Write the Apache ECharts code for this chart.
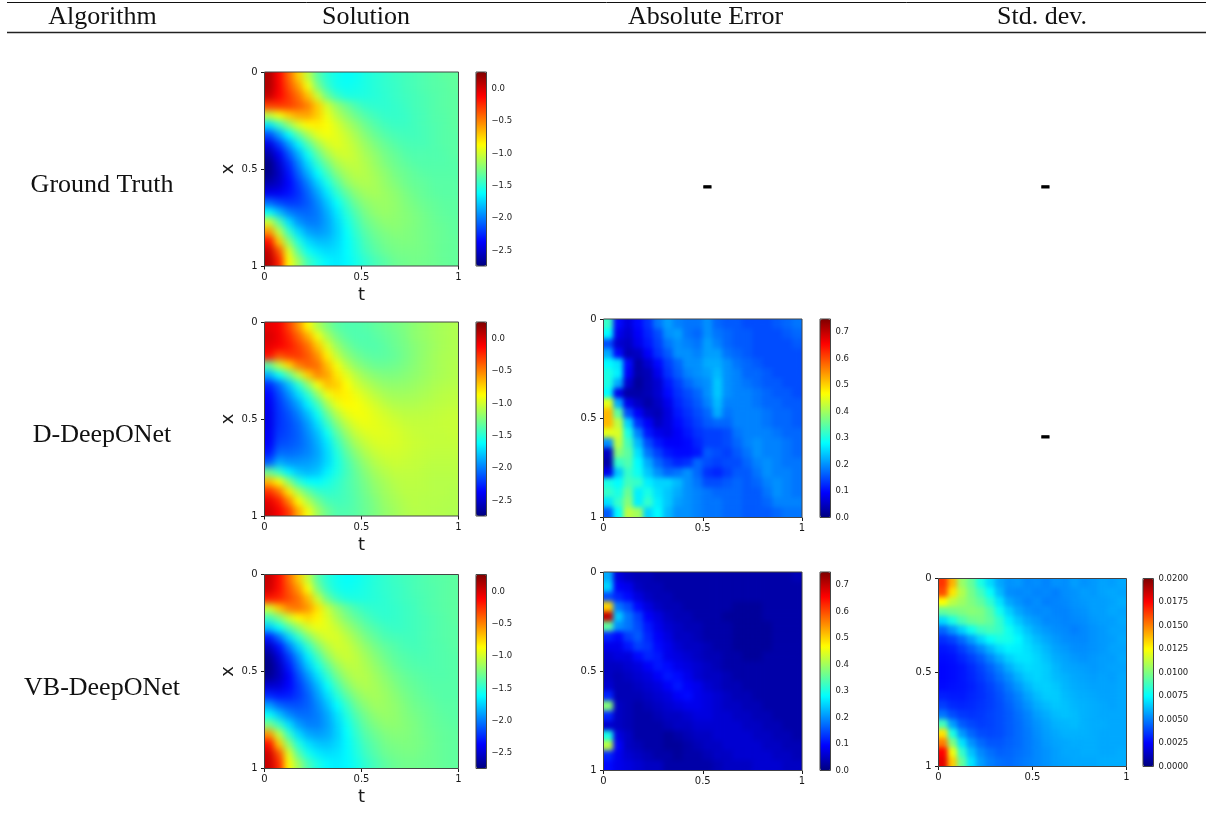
<!DOCTYPE html>
<html><head><meta charset="utf-8">
<style>html,body{margin:0;padding:0;background:#fff}#c{width:1206px;height:814px}</style>
<script src="https://cdn.jsdelivr.net/npm/echarts@6/dist/echarts.min.js"></script>
</head><body>
<svg width="0" height="0" style="position:absolute"><defs>
<filter id="smoothWide" x="-2%" y="-2%" width="104%" height="104%" color-interpolation-filters="sRGB"><feGaussianBlur stdDeviation="3.5"/><feComponentTransfer><feFuncA type="linear" slope="60"/></feComponentTransfer></filter>
<filter id="smoothFine" x="-2%" y="-2%" width="104%" height="104%" color-interpolation-filters="sRGB"><feGaussianBlur stdDeviation="2.5"/><feComponentTransfer><feFuncA type="linear" slope="60"/></feComponentTransfer></filter>
</defs></svg>
<div id="c"></div>
<script>
const headers = ['Algorithm','Solution','Absolute Error','Std. dev.'];
const algorithms = ['Ground Truth','D-DeepONet','VB-DeepONet'];
const cellCentres = [.025,.075,.125,.175,.225,.275,.325,.375,.425,.475,.525,.575,.625,.675,.725,.775,.825,.875,.925,.975];
const solutionTicks = [-2.5,-2,-1.5,-1,-0.5,0];
const errorTicks = [0,.1,.2,.3,.4,.5,.6,.7];
const stdTicks = [0,.0025,.005,.0075,.01,.0125,.015,.0175,.02];
const solutionRange = [-2.74,0.26];
const errorRange = [0,0.75];
const stdRange = [0,0.02];

const groundTruth = [
[0.12,-0.12,-0.42,-0.72,-1.05,-1.35,-1.50,-1.57,-1.60,-1.58,-1.53,-1.50,-1.47,-1.44,-1.42,-1.40,-1.38,-1.36,-1.34,-1.33],
[0.12,-0.10,-0.35,-0.58,-0.90,-1.25,-1.45,-1.56,-1.58,-1.56,-1.53,-1.50,-1.47,-1.45,-1.42,-1.40,-1.38,-1.36,-1.35,-1.33],
[0.05,-0.12,-0.28,-0.45,-0.68,-1.02,-1.30,-1.45,-1.53,-1.53,-1.52,-1.50,-1.48,-1.45,-1.43,-1.41,-1.39,-1.37,-1.35,-1.34],
[-0.30,-0.28,-0.30,-0.38,-0.50,-0.72,-1.00,-1.18,-1.30,-1.40,-1.46,-1.48,-1.48,-1.46,-1.44,-1.41,-1.39,-1.37,-1.35,-1.34],
[-1.05,-0.90,-0.72,-0.62,-0.60,-0.72,-0.92,-1.08,-1.20,-1.30,-1.38,-1.43,-1.46,-1.46,-1.45,-1.42,-1.40,-1.37,-1.36,-1.34],
[-1.70,-1.45,-1.20,-0.98,-0.85,-0.82,-0.88,-0.98,-1.10,-1.20,-1.30,-1.37,-1.42,-1.44,-1.44,-1.42,-1.40,-1.38,-1.36,-1.34],
[-2.15,-1.90,-1.62,-1.35,-1.12,-0.95,-0.90,-0.95,-1.03,-1.13,-1.23,-1.31,-1.37,-1.40,-1.42,-1.42,-1.40,-1.38,-1.36,-1.35],
[-2.45,-2.20,-1.92,-1.65,-1.38,-1.15,-1.00,-0.95,-1.00,-1.08,-1.17,-1.25,-1.31,-1.36,-1.39,-1.40,-1.40,-1.38,-1.36,-1.35],
[-2.62,-2.40,-2.12,-1.85,-1.58,-1.33,-1.13,-1.02,-1.00,-1.05,-1.13,-1.20,-1.27,-1.32,-1.36,-1.38,-1.38,-1.38,-1.37,-1.35],
[-2.72,-2.50,-2.25,-1.98,-1.72,-1.48,-1.28,-1.12,-1.05,-1.05,-1.10,-1.17,-1.24,-1.29,-1.33,-1.36,-1.37,-1.37,-1.37,-1.36],
[-2.70,-2.55,-2.32,-2.08,-1.85,-1.62,-1.42,-1.23,-1.12,-1.07,-1.09,-1.14,-1.20,-1.26,-1.30,-1.33,-1.35,-1.36,-1.36,-1.36],
[-2.60,-2.52,-2.36,-2.18,-1.98,-1.76,-1.55,-1.36,-1.20,-1.12,-1.10,-1.13,-1.18,-1.23,-1.28,-1.31,-1.33,-1.35,-1.35,-1.35],
[-2.42,-2.40,-2.32,-2.22,-2.06,-1.88,-1.68,-1.48,-1.32,-1.20,-1.14,-1.13,-1.16,-1.20,-1.25,-1.29,-1.32,-1.34,-1.35,-1.35],
[-2.05,-2.15,-2.20,-2.18,-2.10,-1.96,-1.78,-1.60,-1.43,-1.28,-1.20,-1.16,-1.16,-1.19,-1.23,-1.27,-1.30,-1.32,-1.34,-1.34],
[-1.60,-1.80,-1.98,-2.05,-2.06,-2.00,-1.85,-1.68,-1.50,-1.36,-1.25,-1.19,-1.17,-1.19,-1.22,-1.25,-1.28,-1.31,-1.33,-1.34],
[-1.00,-1.35,-1.70,-1.92,-2.00,-1.99,-1.88,-1.73,-1.56,-1.42,-1.30,-1.24,-1.20,-1.20,-1.22,-1.24,-1.27,-1.30,-1.32,-1.33],
[-0.55,-1.05,-1.45,-1.72,-1.88,-1.92,-1.87,-1.75,-1.60,-1.46,-1.35,-1.28,-1.24,-1.22,-1.23,-1.25,-1.27,-1.29,-1.31,-1.33],
[-0.15,-0.70,-1.20,-1.52,-1.72,-1.80,-1.80,-1.73,-1.62,-1.50,-1.39,-1.32,-1.27,-1.25,-1.24,-1.25,-1.27,-1.29,-1.31,-1.32],
[0.05,-0.35,-0.95,-1.35,-1.58,-1.68,-1.72,-1.70,-1.62,-1.52,-1.42,-1.35,-1.30,-1.27,-1.26,-1.26,-1.27,-1.29,-1.31,-1.32],
[0.10,-0.20,-0.85,-1.15,-1.42,-1.55,-1.64,-1.67,-1.63,-1.55,-1.47,-1.40,-1.35,-1.30,-1.28,-1.27,-1.28,-1.29,-1.31,-1.32]];

const dDeepONetSolution = [
[-0.05,-0.10,-0.30,-0.55,-0.85,-1.10,-1.25,-1.35,-1.38,-1.38,-1.36,-1.33,-1.30,-1.27,-1.24,-1.20,-1.17,-1.14,-1.12,-1.10],
[0.00,-0.08,-0.22,-0.40,-0.62,-0.90,-1.12,-1.27,-1.35,-1.38,-1.38,-1.35,-1.32,-1.29,-1.25,-1.20,-1.17,-1.14,-1.12,-1.10],
[-0.05,-0.10,-0.18,-0.30,-0.45,-0.70,-0.97,-1.17,-1.28,-1.35,-1.37,-1.37,-1.34,-1.30,-1.26,-1.22,-1.18,-1.15,-1.12,-1.10],
[-0.15,-0.35,-0.28,-0.28,-0.38,-0.55,-0.82,-1.05,-1.20,-1.28,-1.33,-1.35,-1.34,-1.31,-1.27,-1.22,-1.18,-1.14,-1.11,-1.10],
[-1.35,-1.05,-0.75,-0.50,-0.40,-0.45,-0.68,-0.90,-1.08,-1.20,-1.26,-1.30,-1.30,-1.28,-1.25,-1.21,-1.17,-1.14,-1.11,-1.09],
[-1.85,-1.60,-1.35,-1.05,-0.72,-0.52,-0.60,-0.80,-0.95,-1.08,-1.17,-1.22,-1.24,-1.24,-1.22,-1.19,-1.16,-1.13,-1.11,-1.09],
[-2.25,-2.05,-1.80,-1.50,-1.20,-0.90,-0.68,-0.72,-0.87,-1.00,-1.08,-1.14,-1.18,-1.19,-1.18,-1.16,-1.14,-1.11,-1.09,-1.08],
[-2.35,-2.15,-1.95,-1.72,-1.48,-1.18,-0.92,-0.80,-0.83,-0.92,-1.00,-1.07,-1.12,-1.14,-1.14,-1.13,-1.11,-1.09,-1.07,-1.06],
[-2.40,-2.20,-2.05,-1.88,-1.65,-1.42,-1.12,-0.93,-0.85,-0.88,-0.94,-1.00,-1.06,-1.09,-1.10,-1.10,-1.08,-1.07,-1.06,-1.05],
[-2.42,-2.22,-2.12,-1.98,-1.80,-1.58,-1.30,-1.08,-0.94,-0.89,-0.91,-0.96,-1.00,-1.04,-1.06,-1.06,-1.06,-1.05,-1.04,-1.03],
[-2.42,-2.22,-2.15,-2.05,-1.90,-1.70,-1.45,-1.22,-1.05,-0.95,-0.92,-0.94,-0.97,-1.00,-1.03,-1.04,-1.04,-1.04,-1.03,-1.03],
[-2.40,-2.20,-2.15,-2.08,-1.95,-1.80,-1.58,-1.35,-1.16,-1.03,-0.97,-0.95,-0.96,-0.98,-1.01,-1.03,-1.04,-1.04,-1.04,-1.03],
[-2.38,-2.15,-2.12,-2.07,-1.98,-1.85,-1.68,-1.45,-1.26,-1.11,-1.03,-0.98,-0.97,-0.98,-1.00,-1.02,-1.03,-1.04,-1.04,-1.04],
[-2.30,-2.05,-2.05,-2.02,-1.97,-1.88,-1.72,-1.52,-1.34,-1.20,-1.09,-1.03,-1.00,-1.00,-1.01,-1.03,-1.04,-1.05,-1.05,-1.05],
[-2.10,-1.85,-1.92,-1.92,-1.90,-1.85,-1.72,-1.55,-1.40,-1.27,-1.16,-1.08,-1.04,-1.02,-1.03,-1.04,-1.05,-1.06,-1.06,-1.06],
[-1.30,-1.45,-1.65,-1.78,-1.82,-1.78,-1.65,-1.53,-1.42,-1.31,-1.21,-1.13,-1.08,-1.05,-1.05,-1.05,-1.06,-1.07,-1.07,-1.07],
[-0.65,-0.85,-1.20,-1.48,-1.60,-1.62,-1.55,-1.48,-1.40,-1.33,-1.25,-1.17,-1.12,-1.08,-1.06,-1.06,-1.07,-1.08,-1.08,-1.08],
[-0.25,-0.45,-0.80,-1.12,-1.32,-1.45,-1.48,-1.45,-1.40,-1.34,-1.27,-1.20,-1.14,-1.10,-1.07,-1.07,-1.07,-1.08,-1.08,-1.09],
[-0.05,-0.20,-0.50,-0.85,-1.10,-1.28,-1.40,-1.42,-1.40,-1.35,-1.29,-1.23,-1.16,-1.12,-1.09,-1.07,-1.08,-1.08,-1.09,-1.09],
[0.02,-0.10,-0.28,-0.62,-0.90,-1.15,-1.30,-1.38,-1.38,-1.35,-1.30,-1.24,-1.18,-1.14,-1.10,-1.08,-1.08,-1.09,-1.09,-1.10]];

const vbDeepONetSolution = [
[0.05,-0.14,-0.42,-0.70,-1.03,-1.35,-1.50,-1.57,-1.60,-1.58,-1.54,-1.50,-1.47,-1.44,-1.42,-1.40,-1.38,-1.36,-1.35,-1.34],
[0.02,-0.15,-0.36,-0.56,-0.88,-1.25,-1.45,-1.55,-1.58,-1.56,-1.53,-1.50,-1.47,-1.45,-1.43,-1.40,-1.38,-1.37,-1.35,-1.34],
[-0.18,-0.22,-0.33,-0.45,-0.66,-1.02,-1.30,-1.45,-1.52,-1.53,-1.52,-1.50,-1.48,-1.45,-1.43,-1.41,-1.39,-1.37,-1.35,-1.34],
[-1.00,-0.70,-0.50,-0.46,-0.56,-0.78,-1.03,-1.20,-1.32,-1.41,-1.46,-1.48,-1.48,-1.46,-1.44,-1.42,-1.39,-1.37,-1.35,-1.34],
[-1.42,-1.25,-1.02,-0.85,-0.76,-0.84,-0.97,-1.12,-1.24,-1.33,-1.40,-1.45,-1.47,-1.46,-1.44,-1.42,-1.40,-1.38,-1.36,-1.34],
[-1.78,-1.60,-1.38,-1.18,-1.00,-0.92,-0.95,-1.03,-1.14,-1.24,-1.33,-1.39,-1.43,-1.45,-1.44,-1.42,-1.40,-1.38,-1.36,-1.35],
[-2.30,-2.05,-1.75,-1.48,-1.25,-1.07,-0.98,-0.98,-1.06,-1.16,-1.26,-1.33,-1.39,-1.41,-1.42,-1.42,-1.40,-1.38,-1.36,-1.35],
[-2.55,-2.32,-2.02,-1.75,-1.48,-1.25,-1.08,-1.00,-1.02,-1.10,-1.19,-1.27,-1.33,-1.37,-1.40,-1.41,-1.40,-1.38,-1.37,-1.35],
[-2.68,-2.47,-2.20,-1.93,-1.66,-1.42,-1.20,-1.06,-1.02,-1.06,-1.14,-1.22,-1.29,-1.34,-1.37,-1.39,-1.39,-1.38,-1.37,-1.36],
[-2.72,-2.55,-2.30,-2.04,-1.78,-1.56,-1.35,-1.17,-1.07,-1.06,-1.11,-1.18,-1.25,-1.31,-1.35,-1.37,-1.38,-1.38,-1.37,-1.36],
[-2.68,-2.56,-2.38,-2.14,-1.92,-1.70,-1.48,-1.28,-1.14,-1.08,-1.09,-1.15,-1.21,-1.27,-1.31,-1.34,-1.36,-1.37,-1.37,-1.36],
[-2.50,-2.48,-2.36,-2.20,-2.02,-1.82,-1.60,-1.40,-1.23,-1.13,-1.10,-1.13,-1.18,-1.24,-1.29,-1.32,-1.34,-1.36,-1.36,-1.36],
[-2.25,-2.30,-2.28,-2.20,-2.08,-1.90,-1.71,-1.51,-1.34,-1.21,-1.14,-1.13,-1.16,-1.21,-1.26,-1.30,-1.33,-1.35,-1.36,-1.36],
[-1.90,-2.06,-2.12,-2.13,-2.08,-1.96,-1.80,-1.62,-1.45,-1.29,-1.20,-1.15,-1.16,-1.19,-1.24,-1.28,-1.31,-1.33,-1.35,-1.35],
[-1.60,-1.78,-1.95,-2.03,-2.04,-1.99,-1.87,-1.70,-1.52,-1.37,-1.26,-1.19,-1.17,-1.19,-1.23,-1.26,-1.29,-1.32,-1.34,-1.35],
[-1.25,-1.45,-1.70,-1.90,-1.98,-1.98,-1.89,-1.74,-1.58,-1.43,-1.31,-1.24,-1.20,-1.20,-1.22,-1.25,-1.28,-1.31,-1.33,-1.34],
[-0.55,-1.05,-1.45,-1.72,-1.86,-1.90,-1.86,-1.76,-1.61,-1.47,-1.36,-1.29,-1.24,-1.22,-1.23,-1.25,-1.28,-1.30,-1.32,-1.33],
[-0.15,-0.70,-1.20,-1.52,-1.70,-1.78,-1.79,-1.73,-1.63,-1.51,-1.40,-1.33,-1.27,-1.25,-1.24,-1.25,-1.27,-1.30,-1.32,-1.33],
[0.02,-0.35,-0.95,-1.35,-1.56,-1.67,-1.71,-1.69,-1.63,-1.53,-1.43,-1.36,-1.30,-1.27,-1.26,-1.26,-1.28,-1.30,-1.32,-1.33],
[0.05,-0.22,-0.85,-1.15,-1.40,-1.54,-1.63,-1.66,-1.63,-1.56,-1.47,-1.40,-1.34,-1.30,-1.28,-1.28,-1.29,-1.30,-1.32,-1.33]];

const dDeepONetError = [
[.32,.10,.07,.10,.13,.18,.21,.19,.18,.18,.20,.17,.16,.16,.15,.15,.15,.16,.17,.18],
[.28,.08,.06,.09,.12,.15,.20,.21,.18,.17,.20,.18,.17,.16,.16,.15,.15,.15,.16,.17],
[.15,.06,.05,.08,.11,.14,.18,.20,.19,.18,.21,.19,.17,.16,.16,.15,.15,.15,.15,.16],
[.22,.10,.04,.05,.09,.13,.16,.20,.20,.19,.21,.21,.18,.17,.16,.15,.15,.15,.15,.15],
[.28,.26,.10,.03,.06,.10,.14,.17,.20,.20,.22,.22,.20,.18,.17,.16,.15,.15,.15,.15],
[.30,.27,.09,.03,.04,.08,.13,.16,.19,.20,.21,.23,.20,.19,.17,.17,.16,.15,.15,.15],
[.30,.22,.06,.02,.04,.06,.11,.14,.17,.19,.20,.24,.20,.19,.18,.17,.16,.16,.15,.15],
[.28,.08,.03,.03,.04,.06,.10,.13,.15,.17,.20,.24,.20,.19,.19,.18,.17,.16,.16,.15],
[.45,.22,.08,.05,.03,.05,.08,.12,.14,.16,.19,.23,.19,.19,.19,.18,.17,.17,.16,.16],
[.52,.35,.15,.09,.05,.04,.07,.11,.13,.15,.17,.22,.18,.19,.19,.19,.18,.17,.17,.16],
[.52,.42,.25,.13,.09,.05,.07,.10,.12,.14,.16,.17,.17,.19,.19,.19,.18,.17,.17,.16],
[.45,.44,.30,.19,.11,.08,.07,.09,.11,.13,.14,.14,.15,.18,.19,.19,.19,.18,.17,.17],
[.20,.42,.33,.23,.15,.11,.09,.09,.10,.12,.14,.14,.15,.17,.19,.20,.19,.19,.18,.17],
[.05,.38,.35,.26,.18,.14,.11,.10,.10,.11,.16,.15,.14,.16,.18,.20,.19,.19,.18,.17],
[.03,.32,.34,.28,.22,.17,.14,.12,.13,.17,.15,.14,.15,.15,.17,.19,.20,.19,.18,.18],
[.08,.24,.32,.29,.24,.20,.17,.18,.20,.17,.13,.12,.14,.16,.16,.18,.20,.19,.19,.18],
[.30,.28,.33,.32,.27,.25,.25,.23,.20,.18,.15,.15,.16,.17,.16,.17,.19,.20,.19,.18],
[.32,.30,.36,.27,.30,.26,.24,.22,.20,.19,.18,.17,.17,.17,.16,.16,.18,.20,.19,.18],
[.26,.32,.38,.27,.32,.27,.24,.21,.20,.19,.18,.18,.17,.17,.16,.16,.17,.19,.19,.19],
[.16,.28,.42,.40,.25,.28,.23,.20,.20,.19,.18,.18,.17,.17,.16,.16,.16,.17,.18,.18]];

const vbDeepONetError = [
[.22,.07,.05,.04,.04,.03,.03,.03,.03,.03,.03,.03,.03,.03,.03,.03,.03,.03,.03,.04],
[.25,.09,.08,.05,.04,.04,.03,.03,.03,.03,.03,.03,.03,.03,.03,.03,.03,.03,.03,.03],
[.15,.12,.10,.07,.05,.04,.04,.03,.03,.03,.03,.03,.03,.03,.03,.03,.03,.03,.03,.03],
[.50,.18,.15,.10,.07,.05,.04,.04,.03,.03,.03,.03,.03,.02,.02,.02,.03,.03,.03,.03],
[.70,.24,.18,.14,.09,.07,.05,.04,.04,.03,.03,.03,.02,.02,.02,.02,.03,.03,.03,.03],
[.35,.20,.18,.15,.11,.08,.06,.05,.04,.04,.03,.03,.03,.02,.02,.02,.02,.03,.03,.03],
[.12,.10,.14,.16,.12,.09,.07,.05,.05,.04,.03,.03,.03,.02,.02,.02,.02,.03,.03,.03],
[.08,.08,.11,.14,.13,.10,.08,.06,.05,.05,.04,.03,.03,.02,.02,.02,.02,.03,.03,.03],
[.06,.07,.07,.10,.12,.11,.08,.07,.06,.05,.04,.04,.03,.03,.02,.02,.03,.03,.03,.03],
[.05,.05,.06,.07,.09,.11,.10,.08,.07,.06,.05,.04,.03,.03,.03,.03,.03,.03,.03,.03],
[.05,.04,.05,.06,.07,.09,.11,.10,.08,.06,.05,.05,.04,.03,.03,.03,.03,.03,.03,.03],
[.06,.04,.04,.05,.06,.07,.09,.11,.09,.08,.06,.05,.04,.04,.03,.03,.03,.03,.03,.03],
[.12,.04,.04,.04,.05,.06,.07,.09,.10,.08,.07,.06,.05,.04,.04,.03,.03,.03,.03,.03],
[.38,.05,.04,.03,.04,.05,.06,.07,.08,.08,.07,.06,.05,.05,.04,.04,.03,.03,.03,.03],
[.12,.05,.04,.03,.03,.04,.05,.05,.06,.07,.07,.06,.06,.05,.05,.04,.04,.03,.03,.03],
[.06,.05,.04,.03,.03,.03,.04,.05,.05,.06,.06,.06,.06,.06,.05,.05,.04,.04,.03,.03],
[.30,.07,.05,.03,.03,.03,.02,.03,.04,.05,.05,.06,.06,.06,.06,.05,.05,.04,.04,.03],
[.42,.09,.05,.04,.03,.03,.02,.02,.03,.04,.05,.05,.06,.06,.06,.06,.05,.05,.04,.04],
[.12,.08,.06,.05,.04,.03,.03,.02,.03,.03,.04,.05,.05,.06,.06,.06,.06,.05,.05,.04],
[.10,.08,.07,.06,.05,.05,.03,.03,.03,.03,.03,.04,.05,.05,.05,.06,.06,.06,.05,.05]];

const vbDeepONetStd = [
[.0165,.0140,.0105,.0095,.0080,.0068,.0058,.0054,.0055,.0052,.0053,.0051,.0054,.0053,.0056,.0054,.0055,.0057,.0056,.0058],
[.0160,.0130,.0110,.0098,.0088,.0076,.0062,.0053,.0052,.0053,.0051,.0052,.0050,.0053,.0054,.0056,.0055,.0057,.0058,.0057],
[.0125,.0112,.0106,.0100,.0094,.0084,.0070,.0058,.0054,.0051,.0053,.0050,.0051,.0052,.0054,.0055,.0056,.0056,.0057,.0059],
[.0095,.0098,.0100,.0102,.0100,.0092,.0078,.0066,.0058,.0054,.0052,.0053,.0051,.0051,.0053,.0054,.0056,.0056,.0058,.0057],
[.0068,.0080,.0090,.0096,.0098,.0094,.0085,.0072,.0064,.0058,.0055,.0052,.0052,.0051,.0052,.0053,.0055,.0056,.0056,.0058],
[.0045,.0055,.0066,.0078,.0086,.0089,.0086,.0078,.0070,.0063,.0058,.0055,.0053,.0052,.0050,.0052,.0054,.0055,.0057,.0057],
[.0034,.0038,.0046,.0056,.0067,.0076,.0080,.0079,.0074,.0067,.0062,.0058,.0055,.0053,.0052,.0052,.0054,.0055,.0056,.0058],
[.0029,.0031,.0037,.0044,.0052,.0061,.0069,.0073,.0072,.0069,.0065,.0061,.0057,.0055,.0053,.0053,.0054,.0055,.0057,.0057],
[.0027,.0028,.0032,.0037,.0043,.0051,.0059,.0066,.0070,.0070,.0067,.0063,.0059,.0057,.0055,.0054,.0055,.0056,.0056,.0058],
[.0026,.0027,.0029,.0033,.0038,.0044,.0051,.0059,.0065,.0068,.0067,.0065,.0061,.0058,.0057,.0056,.0055,.0056,.0057,.0057],
[.0026,.0027,.0029,.0032,.0036,.0041,.0047,.0053,.0060,.0065,.0067,.0065,.0062,.0060,.0058,.0057,.0056,.0057,.0056,.0058],
[.0027,.0028,.0029,.0031,.0034,.0038,.0043,.0049,.0055,.0061,.0065,.0066,.0064,.0061,.0059,.0058,.0057,.0057,.0057,.0058],
[.0031,.0030,.0030,.0032,.0034,.0037,.0041,.0046,.0051,.0057,.0062,.0065,.0065,.0062,.0060,.0059,.0058,.0057,.0057,.0058],
[.0037,.0033,.0032,.0033,.0035,.0037,.0040,.0044,.0049,.0054,.0059,.0062,.0064,.0063,.0061,.0060,.0059,.0058,.0057,.0058],
[.0048,.0040,.0036,.0035,.0036,.0038,.0040,.0043,.0047,.0051,.0056,.0059,.0062,.0063,.0062,.0060,.0059,.0058,.0058,.0058],
[.0088,.0056,.0043,.0039,.0037,.0038,.0040,.0043,.0046,.0050,.0054,.0057,.0060,.0061,.0062,.0060,.0059,.0059,.0058,.0058],
[.0130,.0080,.0055,.0045,.0040,.0039,.0040,.0043,.0046,.0049,.0053,.0056,.0058,.0060,.0060,.0060,.0059,.0058,.0058,.0058],
[.0150,.0100,.0070,.0054,.0046,.0042,.0042,.0044,.0046,.0049,.0052,.0055,.0057,.0058,.0059,.0059,.0059,.0058,.0058,.0058],
[.0175,.0122,.0085,.0063,.0052,.0047,.0044,.0045,.0047,.0049,.0052,.0054,.0056,.0058,.0058,.0059,.0059,.0058,.0058,.0059],
[.0180,.0135,.0095,.0070,.0056,.0050,.0047,.0046,.0048,.0050,.0052,.0054,.0056,.0057,.0058,.0058,.0058,.0059,.0059,.0059]];

const jet = ['#00007f','#0000ff','#007fff','#00ffff','#7fff7f','#ffff00','#ff7f00','#ff0000','#7f0000'];
const serif = '"Liberation Serif","Times New Roman",serif';
const sans = '"DejaVu Sans",sans-serif';
const frame = '#444';
const ink = '#1a1a1a';
const SMOOTH_WIDE = 1, SMOOTH_FINE = 3, FRAMES = 5;

function minusFmt(d){ return v => v.toFixed(d).replace('-','\u2212'); }
const panels = [
 {m:groundTruth,       r:solutionRange, t:solutionTicks, f:minusFmt(1), p:[264.5,72,194,194],   cb:476,  names:true, z:SMOOTH_WIDE},
 {m:dDeepONetSolution, r:solutionRange, t:solutionTicks, f:minusFmt(1), p:[264.5,322,194,194],  cb:476,  names:true, z:SMOOTH_WIDE},
 {m:vbDeepONetSolution,r:solutionRange, t:solutionTicks, f:minusFmt(1), p:[264.5,574.5,194,194],cb:476,  names:true, z:SMOOTH_WIDE},
 {m:dDeepONetError,    r:errorRange,    t:errorTicks,    f:minusFmt(1), p:[603.5,319,198.5,198.5],cb:820,names:false,z:SMOOTH_FINE},
 {m:vbDeepONetError,   r:errorRange,    t:errorTicks,    f:minusFmt(1), p:[603.5,572,198.5,198.5],cb:820,names:false,z:SMOOTH_FINE},
 {m:vbDeepONetStd,     r:stdRange,      t:stdTicks,      f:minusFmt(4), p:[938.5,578.5,188,188],cb:1143,names:false,z:SMOOTH_FINE}
];

const grid=[],xAxis=[],yAxis=[],series=[],visualMap=[];
panels.forEach((P,k)=>{
  const [l,t,w,h]=P.p;
  const gi=grid.length;
  grid.push({left:l,top:t,width:w,height:h,show:true,z:10,zlevel:FRAMES,backgroundColor:'transparent',borderColor:frame,borderWidth:1});
  const xc=xAxis.length, yc=yAxis.length;
  xAxis.push({type:'category',gridIndex:gi,data:cellCentres,show:false});
  yAxis.push({type:'category',gridIndex:gi,data:cellCentres,show:false,inverse:true});
  const lab=(mg)=>({color:ink,fontFamily:sans,fontSize:10,margin:mg,showMinLabel:true,showMaxLabel:true,hideOverlap:false});
  xAxis.push({type:'value',gridIndex:gi,position:'bottom',min:0,max:1,interval:.5,splitLine:{show:false},
    axisLine:{show:false},axisTick:{length:3.5,lineStyle:{color:ink}},axisLabel:lab(6),
    name:P.names?'t':'',nameLocation:'middle',nameGap:20,nameTextStyle:{fontFamily:sans,fontSize:18,color:ink}});
  yAxis.push({type:'value',gridIndex:gi,position:'left',inverse:true,min:0,max:1,interval:.5,splitLine:{show:false},
    axisLine:{show:false},axisTick:{length:3.5,lineStyle:{color:ink}},axisLabel:lab(7),
    name:P.names?'x':'',nameLocation:'middle',nameGap:26,nameRotate:90,nameTextStyle:{fontFamily:sans,fontSize:18,color:ink}});
  const data=[];
  P.m.forEach((row,i)=>row.forEach((v,j)=>data.push([j,i,v])));
  series.push({type:'heatmap',xAxisIndex:xc,yAxisIndex:yc,data,silent:true,progressive:0,zlevel:P.z,emphasis:{disabled:true},itemStyle:{borderWidth:0}});
  visualMap.push({type:'continuous',seriesIndex:k,dimension:2,min:P.r[0],max:P.r[1],inRange:{color:jet},
    left:P.cb,top:t,itemWidth:10.5,itemHeight:h,padding:0,calculable:false,text:null,hoverLink:false,realtime:false,show:true});
  const gc=grid.length;
  grid.push({left:P.cb,top:t,width:10.5,height:h,show:true,z:10,zlevel:FRAMES,backgroundColor:'transparent',borderColor:frame,borderWidth:1});
  xAxis.push({type:'value',gridIndex:gc,show:false,min:0,max:1});
  yAxis.push({type:'value',gridIndex:gc,position:'right',min:P.r[0],max:P.r[1],splitLine:{show:false},axisLine:{show:false},
    axisTick:{length:3,customValues:P.t,lineStyle:{color:ink}},
    axisLabel:{customValues:P.t,formatter:P.f,color:ink,fontFamily:sans,fontSize:8.5,margin:5}});
});

const graphic=[];
const txt=(s,x,y,size,extra)=>graphic.push({type:'text',x,y,style:Object.assign({text:s,fontFamily:serif,fontSize:size,fill:'#111',align:'center',verticalAlign:'middle'},extra||{}),z:20});
const headerX=[102.5,366,705.5,1042];
headers.forEach((h,i)=>txt(h,headerX[i],17,26));
const rowY=[185.5,435.5,688.5];
algorithms.forEach((a,i)=>txt(a,102,rowY[i],26));
[[707.5,185.5],[1045.5,185.5],[1045.5,435.5]].forEach(d=>txt('-',d[0],d[1],28,{fontWeight:'bold',fill:'#000',stroke:'#000',lineWidth:1}));
graphic.push({type:'line',shape:{x1:7,y1:2.5,x2:1206,y2:2.5},style:{stroke:'#111',lineWidth:1}});
graphic.push({type:'line',shape:{x1:7,y1:32.5,x2:1206,y2:32.5},style:{stroke:'#222',lineWidth:1.3}});

const chart=echarts.init(document.getElementById('c'),null,{renderer:'canvas'});
chart.setOption({animation:false,grid,xAxis,yAxis,series,visualMap,graphic});

// Soften the heat cells into the continuous look of the source, clipped to each plot.
function soften(zlevel,filterId){
  const c=document.querySelector('#c canvas[data-zr-dom-id="zr_'+zlevel+'"]');
  if(!c) return;
  const d=panels.filter(P=>P.z===zlevel).map(P=>`M${P.p[0]} ${P.p[1]}h${P.p[2]}v${P.p[3]}h${-P.p[2]}z`).join(' ');
  c.style.filter=`url(#${filterId})`;
  c.style.clipPath=`path('${d}')`;
}
function softenAll(){ soften(SMOOTH_WIDE,'smoothWide'); soften(SMOOTH_FINE,'smoothFine'); }
softenAll();
chart.on('finished',softenAll);
</script></body></html>
